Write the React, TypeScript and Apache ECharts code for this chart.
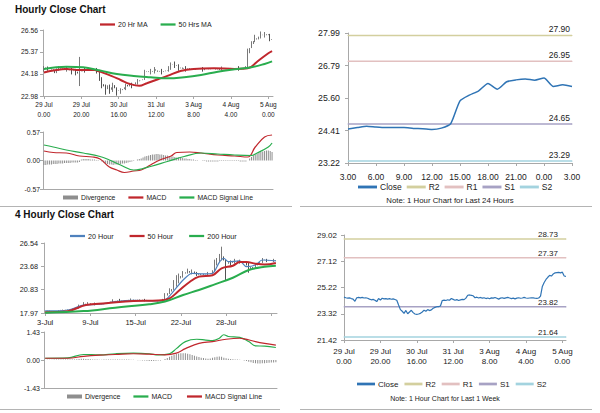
import React, { useEffect, useRef } from "react";
import * as echarts from "echarts";

// ---------- data: last week, hourly (29 Jul 0.00 -> 5 Aug 2.00) ----------
const weekClose = [
  24.52, 24.48, 24.45, 24.47, 24.42, 24.38, 24.22, 24.48, 24.5, 24.47,
  24.5, 24.46, 24.48, 24.44, 24.38, 24.33, 24.36, 24.3, 24.2, 24.42,
  24.32, 24.44, 24.4, 24.42, 24.38, 24.41, 24.37, 24.4, 24.35, 24.3,
  23.95, 23.62, 23.5, 23.35, 23.56, 23.32, 23.45, 23.57, 23.4, 23.3,
  23.28, 23.3, 23.35, 23.45, 23.58, 23.5, 23.62, 23.55, 23.6, 23.72,
  23.78, 23.83, 23.84, 23.88, 24.28, 24.31, 24.28, 24.33, 24.3, 24.42,
  24.36, 24.3, 24.34, 24.28, 24.32, 24.36, 24.34, 24.45, 24.66, 24.68,
  24.65, 24.62, 24.48, 24.52, 24.46, 24.5, 24.45, 24.48, 24.42, 24.46,
  24.4, 24.47, 24.45, 24.5, 24.44, 24.38, 24.45, 24.48, 24.43, 24.47,
  24.5, 24.46, 24.42, 24.45, 24.4, 24.45, 24.48, 24.44, 24.46, 24.5,
  24.46, 24.44, 24.46, 24.48, 24.47, 24.44, 24.43, 24.46, 24.6, 25.3,
  25.58, 25.8, 25.96, 26.1, 26.05, 26.2, 26.28, 26.3, 26.32, 26.28,
  26.33, 26.05, 26.02,
];
// [index, low, high] for bars whose range goes beyond open/close
const weekWicks = [
  [0, 24.3, 24.6], [2, 24.35, 24.58], [8, 24.35, 24.6], [12, 24.3, 24.6], [15, 24.15, 24.5],
  [17, 24.1, 24.45], [19, 23.52, 25.1], [22, 24.25, 24.55], [28, 24.2, 24.5], [30, 23.8, 24.4],
  [31, 23.4, 24.0], [33, 23.05, 23.6], [35, 23.1, 23.6], [37, 23.2, 23.7], [39, 23.0, 23.45],
  [41, 23.1, 23.4], [44, 23.3, 23.65], [47, 23.4, 23.7], [50, 23.6, 23.9], [54, 23.85, 24.4],
  [57, 24.15, 24.45], [59, 24.2, 24.55], [63, 24.15, 24.45], [67, 24.3, 24.6], [68, 24.4, 24.8],
  [70, 24.5, 24.85], [72, 24.35, 24.7], [76, 24.3, 24.6], [85, 24.3, 24.55], [95, 24.35, 24.58],
  [104, 24.35, 24.6], [109, 24.45, 25.55], [111, 25.6, 25.95], [113, 25.9, 26.3], [116, 26.1, 26.48],
  [118, 26.15, 26.45], [121, 25.95, 26.35],
];
const weekTicks = ["29 Jul\n0.00", "29 Jul\n20.00", "30 Jul\n16.00", "31 Jul\n12.00", "3 Aug\n8.00", "4 Aug\n4.00", "5 Aug\n0.00"];
const ma20Hr = [
  [0, 24.25], [5, 24.36], [12, 24.45], [19, 24.39], [27, 24.39], [30, 24.3], [36, 24.07],
  [41, 23.85], [46, 23.63], [51, 23.53], [55, 23.67], [61, 23.89], [66, 24.07], [73, 24.34],
  [80, 24.45], [91, 24.48], [102, 24.45], [109, 24.48], [114, 24.84], [120, 25.3], [122, 25.42],
];
const ma50Hrs = [
  [0, 24.45], [12, 24.57], [21, 24.54], [30, 24.36], [39, 24.17], [48, 24.07], [57, 24.0],
  [66, 23.94], [75, 24.0], [84, 24.12], [93, 24.3], [102, 24.43], [111, 24.54], [118, 24.72], [122, 24.86],
];
const hourlyMacd = [
  [0, 0.19], [5, 0.16], [12, 0.15], [19, 0.09], [26, 0.07], [30, 0.03], [35, -0.13], [39, -0.19],
  [43, -0.24], [48, -0.21], [52, -0.19], [57, -0.09], [62, 0.01], [68, 0.09], [71, 0.16], [78, 0.17],
  [84, 0.15], [93, 0.11], [102, 0.09], [109, 0.07], [113, 0.27], [118, 0.47], [122, 0.51],
];
const hourlySignal = [
  [0, 0.31], [5, 0.27], [12, 0.21], [21, 0.15], [30, 0.08], [35, 0.01], [41, -0.09], [48, -0.19],
  [52, -0.17], [57, -0.12], [66, -0.02], [75, 0.08], [84, 0.15], [93, 0.13], [102, 0.11], [111, 0.1],
  [114, 0.15], [120, 0.27], [122, 0.35],
];
const hourlyDivergence = [
  -0.09, -0.09, -0.08, -0.08, -0.08, -0.07, -0.07, -0.07, -0.06, -0.06,
  -0.06, -0.05, -0.05, -0.05, -0.05, -0.04, -0.04, -0.04, -0.04, -0.03,
  0.02, 0.03, 0.03, 0.03, 0.03, 0.02, 0.02, 0.02, 0.01, 0.01,
  0.0, -0.02, -0.04, -0.06, -0.07, -0.08, -0.08, -0.09, -0.08, -0.08,
  -0.07, -0.07, -0.06, -0.06, -0.05, -0.04, -0.03, -0.02, -0.01, 0.0,
  0.02, 0.03, 0.04, 0.06, 0.08, 0.09, 0.1, 0.11, 0.12, 0.12,
  0.13, 0.13, 0.12, 0.12, 0.11, 0.1, 0.1, 0.09, 0.08, 0.08,
  0.07, 0.06, 0.06, 0.05, 0.05, 0.04, 0.04, 0.03, 0.03, 0.02,
  0.02, 0.01, 0.01, 0.0, 0.0, -0.01, -0.01, -0.02, -0.02, -0.02,
  -0.02, -0.02, -0.02, -0.02, -0.01, -0.01, -0.01, -0.01, -0.01, -0.01,
  -0.01, -0.01, -0.01, -0.01, -0.01, -0.02, -0.02, -0.02, -0.02, 0.0,
  0.04, 0.07, 0.1, 0.12, 0.14, 0.16, 0.17, 0.18, 0.19, 0.2,
  0.2, 0.19, 0.17,
];

// ---------- data: last 24 hours ----------
const dayTicks = ["3.00", "6.00", "9.00", "12.00", "15.00", "18.00", "21.00", "0.00", "3.00"];
const dayClose = [
  24.47, 24.52, 24.57, 24.54, 24.52, 24.52, 24.52, 24.49, 24.48, 24.45, 24.5, 24.66,
  25.5, 25.71, 25.87, 26.14, 25.93, 26.2, 26.27, 26.3, 26.26, 26.34, 26.03, 26.09, 26.03,
];
const dayLevels: [string, number][] = [["R2", 27.9], ["R1", 26.95], ["S1", 24.65], ["S2", 23.29]];
const weekLevels: [string, number][] = [["R2", 28.73], ["R1", 27.37], ["S1", 23.82], ["S2", 21.64]];

// ---------- data: 4 hourly ----------
const fourHTicks = ["3-Jul", "9-Jul", "15-Jul", "22-Jul", "28-Jul"];
const fourHClose = [
  18.22, 18.25, 18.2, 18.18, 18.15, 18.2, 18.3, 18.35, 18.4, 18.38,
  18.45, 18.42, 18.5, 18.48, 18.55, 18.7, 18.95, 19.1, 19.05, 19.15,
  19.05, 19.0, 19.08, 18.98, 19.02, 19.05, 19.1, 19.15, 19.2, 19.35,
  19.45, 19.4, 19.5, 19.42, 19.48, 19.55, 19.52, 19.58, 19.6, 19.55,
  19.58, 19.62, 19.55, 19.6, 19.57, 19.5, 19.48, 19.52, 19.45, 19.5,
  19.4, 19.48, 19.7, 20.1, 20.4, 20.6, 20.9, 21.2, 21.6, 22.2,
  22.5, 22.8, 22.95, 23.1, 22.9, 23.05, 22.85, 22.7, 22.6, 22.75,
  22.65, 22.7, 22.8, 22.75, 23.2, 23.9, 24.3, 24.8, 24.9, 24.4,
  24.0, 24.2, 24.1, 24.3, 24.35, 24.25, 24.3, 24.2, 24.15, 24.1,
  23.3, 23.6, 23.5, 23.8, 24.0, 24.2, 24.45, 24.5, 24.4, 24.45,
  24.38, 24.42, 24.35,
];
const fourHWicks = [
  [15, 18.5, 19.0], [17, 18.9, 19.3], [19, 18.95, 19.3], [22, 18.9, 19.25], [30, 19.2, 19.65],
  [33, 19.3, 19.7], [38, 19.4, 19.75], [44, 19.4, 19.7], [53, 19.6, 20.4], [55, 20.3, 21.0],
  [57, 20.8, 22.0], [58, 21.3, 22.6], [59, 21.6, 22.8], [61, 22.3, 23.1], [63, 22.8, 23.4],
  [65, 22.7, 23.3], [67, 22.5, 23.0], [72, 22.5, 23.0], [75, 23.1, 24.5], [76, 23.8, 24.7],
  [77, 24.2, 25.2], [78, 24.4, 26.09], [80, 22.0, 24.5], [82, 23.8, 24.4], [84, 24.0, 24.6],
  [86, 24.0, 24.5], [89, 23.8, 24.3], [90, 22.9, 24.1], [93, 23.4, 24.0], [96, 24.1, 24.7],
  [98, 24.2, 24.6], [101, 24.2, 24.6],
];
const ma20Hour = [
  [0, 18.22], [10, 18.34], [17, 18.95], [24, 19.04], [31, 19.37], [39, 19.53], [50, 19.44],
  [53, 19.57], [56, 20.38], [61, 22.01], [65, 22.83], [70, 22.75], [74, 22.83], [77, 24.18],
  [79, 24.67], [81, 24.26], [86, 24.34], [89, 23.64], [93, 23.85], [96, 24.46], [102, 24.34],
];
const ma50Hour = [
  [0, 18.06], [10, 18.2], [18, 18.95], [27, 19.16], [39, 19.44], [50, 19.5], [55, 19.77],
  [59, 20.66], [64, 21.8], [68, 22.42], [74, 22.6], [78, 23.44], [83, 23.76], [86, 24.2],
  [89, 24.22], [93, 24.0], [97, 23.9], [102, 24.1],
];
const ma200Hour = [
  [0, 18.0], [17, 18.2], [31, 18.62], [46, 19.04], [53, 19.37], [61, 20.18], [68, 20.79],
  [75, 21.48], [83, 22.29], [90, 23.23], [97, 23.64], [102, 23.76],
];
const fourHMacd = [
  [0, 0.09], [10, 0.11], [17, 0.28], [24, 0.26], [31, 0.32], [39, 0.35], [46, 0.32], [50, 0.26],
  [55, 0.32], [58, 0.58], [62, 0.94], [67, 1.06], [71, 1.02], [74, 0.99], [77, 1.11], [79, 1.29],
  [81, 1.2], [86, 1.16], [90, 0.94], [93, 0.72], [97, 0.71], [102, 0.64],
];
const fourHSignal = [
  [0, 0.09], [10, 0.09], [17, 0.19], [24, 0.25], [31, 0.28], [39, 0.32], [46, 0.3], [53, 0.26],
  [58, 0.35], [62, 0.58], [68, 0.85], [74, 0.94], [80, 1.06], [86, 1.11], [88, 1.08], [93, 0.94],
  [97, 0.85], [102, 0.76],
];
const fourHDivergence = [
  0.0, 0.01, 0.01, 0.01, 0.02, 0.02, 0.02, 0.02, 0.02, 0.02,
  0.02, 0.02, 0.03, 0.03, 0.04, 0.05, 0.06, 0.06, 0.05, 0.05,
  0.04, 0.03, 0.02, 0.02, 0.01, 0.01, 0.02, 0.02, 0.03, 0.03,
  0.03, 0.03, 0.03, 0.02, 0.02, 0.02, 0.02, 0.02, 0.01, 0.01,
  0.0, -0.01, -0.01, -0.02, -0.03, -0.04, -0.05, -0.05, -0.05, -0.04,
  -0.03, -0.02, 0.0, 0.05, 0.1, 0.16, 0.22, 0.27, 0.31, 0.33,
  0.35, 0.35, 0.34, 0.32, 0.29, 0.26, 0.22, 0.18, 0.15, 0.12,
  0.1, 0.08, 0.06, 0.08, 0.11, 0.14, 0.17, 0.18, 0.16, 0.12,
  0.09, 0.07, 0.05, 0.04, 0.03, 0.02, 0.01, 0.0, -0.02, -0.05,
  -0.09, -0.12, -0.15, -0.17, -0.18, -0.18, -0.17, -0.16, -0.15, -0.14,
  -0.13, -0.13, -0.12,
];

// ---------- axis tick values ----------
const p1YTicks = [22.98, 24.18, 25.37, 26.56];
const macd1YTicks = [-0.57, 0, 0.57];
const p2YTicks = [23.22, 24.41, 25.6, 26.79, 27.99];
const p3YTicks = [17.97, 20.83, 23.68, 26.54];
const macd3YTicks = [-1.43, 0, 1.43];
const p4YTicks = [21.42, 23.32, 25.22, 27.12, 29.02];

// ---------- styles ----------
const FONT = "'Liberation Sans', Arial, Helvetica, sans-serif";
const TXT = "#222";
const AXIS = "#a8a8a8";
const RED = "#c0272d";
const GREEN = "#29ad4e";
const BLUE = "#2f74b5";
const BLUE2 = "#4f81bd";
const GREY = "#8e8e8e";
const LEVEL_COLORS: Record<string, string> = { R2: "#d3cf9e", R1: "#e2c0c0", S1: "#a7a2c4", S2: "#a3d3df" };
const LINE_ICON = "path://M0,0H20V3H0Z";

function buildCandles(close: number[], wicks: number[][]) {
  return close.map((c, i) => {
    const o = i === 0 ? c : close[i - 1];
    let lo = Math.min(o, c);
    let hi = Math.max(o, c);
    for (const w of wicks) {
      if (w[0] === i) {
        lo = Math.min(lo, w[1]);
        hi = Math.max(hi, w[2]);
      }
    }
    return [o, c, lo, hi];
  });
}

function catX(gridIndex: number, n: number, boundaryGap: boolean, labels: string[] | null, step: number, fontSize: number, margin: number, lineHeight?: number) {
  const every = (i: number) => i % step === 0;
  return {
    type: "category",
    gridIndex,
    data: Array.from({ length: n }, (_, i) => String(i)),
    boundaryGap,
    axisLine: { show: true, onZero: false, lineStyle: { color: AXIS } },
    axisTick: labels
      ? { show: true, alignWithLabel: true, interval: every, length: 3, lineStyle: { color: AXIS } }
      : { show: false },
    axisLabel: labels
      ? {
          show: true,
          interval: every,
          formatter: (v: string) => labels[Number(v) / step] ?? "",
          fontSize,
          margin,
          lineHeight,
          color: TXT,
          fontFamily: FONT,
        }
      : { show: false },
    splitLine: { show: false },
  };
}

function valY(gridIndex: number, ticks: number[], fontSize: number, margin: number) {
  return {
    type: "value",
    gridIndex,
    min: ticks[0],
    max: ticks[ticks.length - 1],
    axisLine: { show: true, lineStyle: { color: AXIS } },
    axisTick: { show: true, length: 3, customValues: ticks, lineStyle: { color: AXIS } },
    axisLabel: {
      customValues: ticks,
      formatter: (v: number) => v.toFixed(2),
      fontSize,
      margin,
      color: TXT,
      fontFamily: FONT,
    },
    splitLine: { show: false },
  };
}

function line(name: string, axis: number, data: any, color: string, width: number, smooth: number | boolean = 0.4) {
  return {
    type: "line",
    name,
    xAxisIndex: axis,
    yAxisIndex: axis,
    data,
    symbol: "none",
    smooth,
    lineStyle: { color, width },
    itemStyle: { color },
    z: 3,
  };
}

function levelSeries(name: string, value: number, axis: number, last: number, fontSize: number, offsetX: number, dist: number) {
  const color = LEVEL_COLORS[name];
  return {
    type: "line",
    name,
    xAxisIndex: axis,
    yAxisIndex: axis,
    symbol: "circle",
    symbolSize: 1,
    showSymbol: true,
    lineStyle: { color, width: 1.5 },
    itemStyle: { color },
    z: 1,
    data: [
      [0, value],
      {
        value: [last, value],
        label: {
          show: true,
          position: "top",
          align: "right",
          distance: dist,
          offset: [offsetX, 0],
          formatter: value.toFixed(2),
          fontSize,
          color: TXT,
          fontFamily: FONT,
        },
      },
    ],
  };
}

function candleSeries(axis: number, data: number[][], barWidth: number) {
  return {
    type: "candlestick",
    name: "bars" + axis,
    xAxisIndex: axis,
    yAxisIndex: axis,
    data,
    barWidth,
    itemStyle: { color: "#6a6a6a", color0: "#3f3f3f", borderColor: "#6a6a6a", borderColor0: "#3f3f3f", borderWidth: 0.9 },
    z: 2,
  };
}

function legend(items: any[], left: number, top: number, fontSize: number, itemWidth: number, itemGap: number) {
  return {
    data: items.map((it) => (typeof it === "string" ? { name: it, icon: LINE_ICON } : it)),
    left,
    top,
    padding: 0,
    itemWidth,
    itemHeight: 4,
    itemGap,
    selectedMode: false,
    textStyle: { fontSize, color: TXT, fontFamily: FONT, padding: [0, 0, 0, -2] },
  };
}

function buildOption() {
  const weekCandles = buildCandles(weekClose, weekWicks);
  const fourHCandles = buildCandles(fourHClose, fourHWicks);
  const nW = weekClose.length;
  const nD = dayClose.length;
  const n4 = fourHClose.length;

  return {
    animation: false,
    backgroundColor: "#fff",
    grid: [
      { left: 43, top: 30, width: 230, height: 66 },
      { left: 43, top: 132, width: 230, height: 57 },
      { left: 348, top: 33, width: 224, height: 130 },
      { left: 44, top: 243, width: 233, height: 70 },
      { left: 44, top: 332, width: 233, height: 56 },
      { left: 344, top: 235, width: 222, height: 105 },
    ],
    xAxis: [
      catX(0, nW, true, weekTicks, 20, 6.5, 3, 10),
      catX(1, nW, true, null, 20, 6.5, 3),
      catX(2, nD, false, dayTicks, 3, 8.5, 9),
      catX(3, n4, true, fourHTicks, 20, 7.5, 5),
      catX(4, n4, true, null, 20, 7, 3),
      catX(5, nW, false, weekTicks, 20, 8, 6, 10),
    ],
    yAxis: [
      valY(0, p1YTicks, 6.8, 5),
      valY(1, macd1YTicks, 6.8, 3),
      valY(2, p2YTicks, 8.8, 8),
      valY(3, p3YTicks, 7.3, 6),
      valY(4, macd3YTicks, 7, 4),
      valY(5, p4YTicks, 8, 7),
    ],
    legend: [
      legend(["20 Hr MA", "50 Hrs MA"], 100, 21, 7, 15, 13),
      legend([{ name: "Divergence", icon: "rect" }, "MACD", "MACD Signal Line"], 63, 194, 6.8, 15, 13),
      legend(["Close", "R2", "R1", "S1", "S2"], 358, 182.5, 8.5, 19, 5),
      legend(["20 Hour", "50 Hour", "200 Hour"], 70, 232.5, 7.2, 15, 16),
      legend([{ name: "Divergence", icon: "rect" }, "MACD ", "MACD Signal Line "], 67, 393, 7, 15, 13),
      legend(["Close", "R2", "R1", "S1", "S2"], 357, 380, 8, 18, 6),
    ],
    graphic: [
      { type: "text", x: 15, y: 4.5, style: { text: "Hourly Close Chart", font: `bold 10px ${FONT}`, fill: "#111", verticalAlign: "top", textVerticalAlign: "top" } },
      { type: "text", x: 15, y: 209.5, style: { text: "4 Hourly Close Chart", font: `bold 10px ${FONT}`, fill: "#111", verticalAlign: "top", textVerticalAlign: "top" } },
      { type: "text", x: 450, y: 200, style: { text: "Note: 1 Hour Chart for Last 24 Hours", font: `7.8px ${FONT}`, fill: TXT, align: "center", textAlign: "center", verticalAlign: "middle", textVerticalAlign: "middle" } },
      { type: "text", x: 445, y: 398.5, style: { text: "Note: 1 Hour Chart for Last 1 Week", font: `7px ${FONT}`, fill: TXT, align: "center", textAlign: "center", verticalAlign: "middle", textVerticalAlign: "middle" } },
      { type: "line", shape: { x1: 0, y1: 206.5, x2: 292, y2: 206.5 }, style: { stroke: "#b4b4b4", lineWidth: 1 } },
      { type: "line", shape: { x1: 300, y1: 206.5, x2: 592, y2: 206.5 }, style: { stroke: "#b4b4b4", lineWidth: 1 } },
      { type: "line", shape: { x1: 0, y1: 409.5, x2: 280, y2: 409.5 }, style: { stroke: "#b4b4b4", lineWidth: 1 } },
      { type: "line", shape: { x1: 300, y1: 409.5, x2: 592, y2: 409.5 }, style: { stroke: "#b4b4b4", lineWidth: 1 } },
    ],
    series: [
      // panel 1: hourly close chart
      candleSeries(0, weekCandles, 1.1),
      line("20 Hr MA", 0, ma20Hr, RED, 2),
      line("50 Hrs MA", 0, ma50Hrs, GREEN, 2),
      // panel 1 MACD
      { type: "bar", name: "Divergence", xAxisIndex: 1, yAxisIndex: 1, data: hourlyDivergence, barWidth: 1, itemStyle: { color: GREY }, z: 1 },
      line("MACD", 1, hourlyMacd, RED, 1.2),
      line("MACD Signal Line", 1, hourlySignal, GREEN, 1.2),
      // panel 2: last 24 hours
      ...dayLevels.map(([n, v]) => levelSeries(n, v, 2, nD - 1, 8.5, -2, 1)),
      line("Close", 2, dayClose, BLUE, 1.5, 0.2),
      // panel 3: 4 hourly
      candleSeries(3, fourHCandles, 1.3),
      line("20 Hour", 3, ma20Hour, BLUE2, 1.2, 0.3),
      line("50 Hour", 3, ma50Hour, RED, 2),
      line("200 Hour", 3, ma200Hour, GREEN, 2),
      // panel 3 MACD
      { type: "bar", name: "Divergence", xAxisIndex: 4, yAxisIndex: 4, data: fourHDivergence, barWidth: 1, itemStyle: { color: GREY }, z: 1 },
      line("MACD ", 4, fourHMacd, GREEN, 1.2),
      line("MACD Signal Line ", 4, fourHSignal, RED, 1.2),
      // panel 4: last week
      ...weekLevels.map(([n, v]) => levelSeries(n, v, 5, nW - 1, 8, -8, 0)),
      line("Close", 5, weekClose, BLUE, 1.2, false),
    ],
  };
}

export default function App() {
  const ref = useRef<HTMLDivElement>(null);
  useEffect(() => {
    if (!ref.current) return;
    const chart = echarts.init(ref.current, null, { renderer: "svg" });
    chart.setOption(buildOption() as any);
    return () => chart.dispose();
  }, []);
  return (
    <div
      ref={ref}
      style={{ position: "absolute", left: 0, top: 0, width: 600, height: 413, background: "#fff" }}
    />
  );
}
